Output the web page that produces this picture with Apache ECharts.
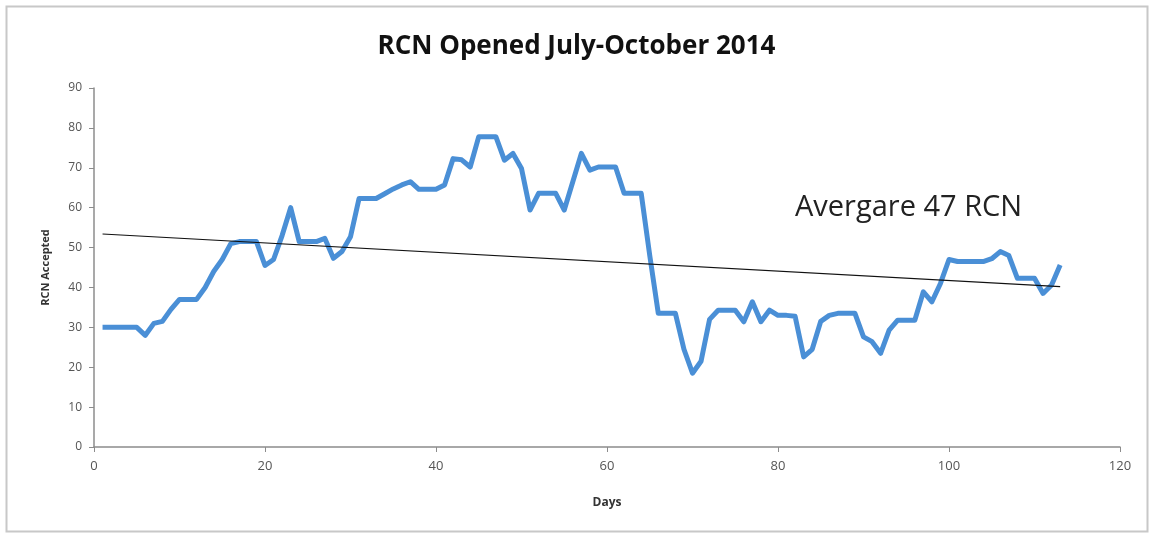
<!DOCTYPE html>
<html>
<head>
<meta charset="utf-8">
<script src="https://cdn.jsdelivr.net/npm/echarts@6/dist/echarts.min.js"></script>
<style>
html,body{margin:0;padding:0;background:#fff;}
#c{width:1153px;height:534px;}
</style>
</head>
<body>
<div id="c"></div>
<script>
const titleText = "RCN Opened July-October 2014";
const xAxisName = "Days";
const yAxisName = "RCN Accepted";
const noteText = "Avergare 47 RCN";
const days = [];
for (let d = 1; d <= 113; d++) days.push(d);
const rcnValues = [
  30, 30, 30, 30, 30, 28, 31, 31.5, 34.5, 37,
  37, 37, 40, 44, 47, 51, 51.5, 51.5, 51.5, 45.5,
  47, 53, 60, 51.5, 51.5, 51.5, 52.3, 47.3, 49, 52.7,
  62.3, 62.3, 62.3, 63.5, 64.7, 65.7, 66.5, 64.6, 64.6, 64.6,
  65.7, 72.3, 72, 70.2, 77.8, 77.8, 77.8, 71.9, 73.6, 69.8,
  59.4, 63.6, 63.6, 63.6, 59.4, 66.5, 73.6, 69.4, 70.2, 70.2,
  70.2, 63.6, 63.6, 63.6, 48, 33.5, 33.5, 33.5, 24.5, 18.5,
  21.5, 32, 34.3, 34.3, 34.3, 31.4, 36.4, 31.4, 34.3, 33,
  33, 32.8, 22.6, 24.5, 31.5, 33, 33.5, 33.5, 33.5, 27.6,
  26.4, 23.5, 29.3, 31.8, 31.8, 31.8, 38.9, 36.4, 41, 47,
  46.5, 46.5, 46.5, 46.5, 47.2, 49, 48, 42.3, 42.3, 42.3,
  38.5, 40.6, 45.6
];
const trendDays = [1, 113];
const trendValues = [53.4, 40.2];

const lineData = days.map((d, i) => [d, rcnValues[i]]);
const trendData = trendDays.map((d, i) => [d, trendValues[i]]);

const chart = echarts.init(document.getElementById('c'));
const axisColor = '#8c8c8c';
const labelColor = '#555';
const fontFam = '"Open Sans", "Liberation Sans", sans-serif';
chart.setOption({
  animation: false,
  backgroundColor: '#fff',
  title: {
    text: titleText, left: 'center', top: 29,
    textStyle: { fontFamily: fontFam, fontWeight: 'bold', fontSize: 26, color: '#111' }
  },
  grid: { left: 94, right: 33, top: 88, bottom: 87 },
  xAxis: {
    type: 'value', min: 0, max: 120, interval: 20,
    name: xAxisName, nameLocation: 'middle', nameGap: 50,
    nameTextStyle: { fontFamily: fontFam, fontWeight: 'bold', fontSize: 12, color: '#333' },
    axisLine: { lineStyle: { color: axisColor, width: 1.5 } },
    axisTick: { show: true, length: 5, lineStyle: { color: axisColor } },
    axisLabel: { fontFamily: fontFam, fontSize: 13, color: labelColor, margin: 13 },
    splitLine: { show: false }
  },
  yAxis: {
    type: 'value', min: 0, max: 90, interval: 10,
    name: yAxisName, nameLocation: 'middle', nameGap: 43,
    nameTextStyle: { fontFamily: fontFam, fontWeight: 'bold', fontSize: 11, color: '#333' },
    axisLine: { show: true, lineStyle: { color: axisColor, width: 1.5 } },
    axisTick: { show: true, length: 5, lineStyle: { color: axisColor } },
    axisLabel: { fontFamily: fontFam, fontSize: 12, color: labelColor, margin: 12 },
    splitLine: { show: false }
  },
  graphic: [
    { type: 'rect', left: 4, top: 4, shape: { width: 1141, height: 525 },
      style: { fill: 'none', stroke: '#c8c8c8', lineWidth: 2 }, silent: true },
    { type: 'text', left: 795, top: 193,
      style: { text: noteText, fontFamily: fontFam, fontSize: 29, fill: '#222' } }
  ],
  series: [
    { type: 'line', data: lineData, showSymbol: false, symbol: 'none',
      lineStyle: { color: '#4a8fd6', width: 5, join: 'round' }, z: 2 },
    { type: 'line', data: trendData, showSymbol: false, symbol: 'none',
      lineStyle: { color: '#111', width: 1.2 }, z: 3 }
  ]
});
</script>
</body>
</html>
